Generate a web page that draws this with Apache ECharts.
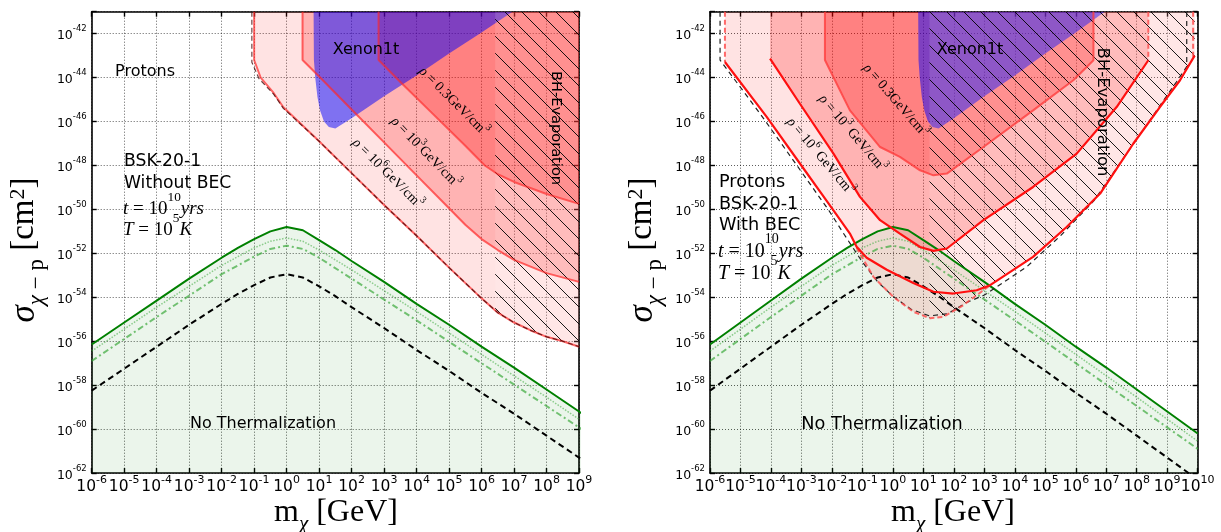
<!DOCTYPE html>
<html><head><meta charset="utf-8">
<script src="https://cdn.jsdelivr.net/npm/echarts@6/dist/echarts.min.js"></script>
<style>html,body{margin:0;padding:0;background:#fff}#c{width:1221px;height:532px}</style>
</head><body><div id="c"></div>
<script>
// All values: x = log10(m_chi / GeV), y = log10(sigma / cm^2)
const xTickExpLeft  = [-6,-5,-4,-3,-2,-1,0,1,2,3,4,5,6,7,8,9];
const xTickExpRight = [-6,-5,-4,-3,-2,-1,0,1,2,3,4,5,6,7,8,9,10];
const yTickExp = [-62,-60,-58,-56,-54,-52,-50,-48,-46,-44,-42];

// thermalization curves (shared by both panels)
const greenSolid = [[-6,-56.15],[-5,-55.15],[-4,-54.15],[-3,-53.15],[-2,-52.2],[-1.5,-51.75],[-1,-51.35],[-0.5,-51.0],[0,-50.8],[0.5,-50.95],[1,-51.4],[1.5,-51.85],[2,-52.35],[3,-53.3],[4,-54.3],[5,-55.25],[6,-56.25],[7,-57.2],[8,-58.2],[9,-59.2],[10,-60.2]];
const greenDotted = [[-6,-56.45],[-4,-54.45],[-2,-52.55],[-1,-51.75],[-0.5,-51.45],[0,-51.3],[0.5,-51.45],[1,-51.85],[2,-52.75],[4,-54.65],[6,-56.6],[8,-58.55],[10,-60.55]];
const greenDashDot = [[-6,-56.9],[-4,-54.9],[-2,-52.95],[-1,-52.15],[-0.5,-51.8],[0,-51.65],[0.5,-51.8],[1,-52.2],[2,-53.15],[4,-55.05],[6,-57.0],[8,-58.95],[10,-60.9]];
const blackDashed = [[-6,-58.25],[-5,-57.25],[-4,-56.25],[-3,-55.25],[-2,-54.3],[-1.5,-53.85],[-1,-53.45],[-0.5,-53.1],[0,-52.95],[0.5,-53.1],[1,-53.5],[1.5,-53.95],[2,-54.45],[3,-55.4],[4,-56.4],[5,-57.35],[6,-58.35],[7,-59.3],[8,-60.3],[9,-61.3],[10,-62.3]];

// Xenon1t excluded region (both panels)
const xenon = [[0.83,-41],[0.84,-43.2],[0.88,-44.0],[0.95,-44.9],[1.03,-45.5],[1.15,-46.0],[1.3,-46.25],[1.5,-46.32],[2,-45.85],[3,-44.85],[4,-43.9],[5,-42.9],[6,-41.95],[6.95,-41]];

// LEFT panel (without BEC): rho regions
const leftRho6 = [[-1.0,-41],[-1.0,-43.2],[-0.8,-44.0],[-0.4,-44.7],[-0.1,-45.35],[1,-46.9],[2,-48.35],[3,-49.8],[4,-51.2],[5,-52.65],[6,-54.05],[6.5,-54.7],[7,-55.15],[7.5,-55.5],[8,-55.8],[8.5,-56.0],[9,-56.25]];
const leftRho6Dash = [[-1.07,-41],[-1.07,-43.3],[-0.85,-44.05],[-0.4,-44.75],[-0.1,-45.4],[1,-46.9],[2,-48.35],[3,-49.8],[4,-51.2],[5,-52.65],[6,-54.05],[6.5,-54.7],[7,-55.15],[7.5,-55.5],[8,-55.8],[8.5,-56.0],[9,-56.25]];
const leftRho3 = [[0.49,-41],[0.49,-43.2],[1,-43.95],[2,-45.45],[3,-46.95],[4,-48.45],[5,-49.95],[5.5,-50.7],[6,-51.35],[6.5,-51.85],[7,-52.3],[8,-52.9],[9,-53.3]];
const leftRho03 = [[2.83,-41],[2.83,-43.2],[3.5,-44.2],[4.5,-45.65],[5.5,-47.1],[6.1,-48.0],[6.5,-48.4],[7,-48.75],[8,-49.3],[9,-49.75]];
const leftBH = [[6.42,-41],[9,-41],[9,-56.25],[8.5,-56.0],[8,-55.8],[7.5,-55.5],[7,-55.15],[6.5,-54.7],[6.42,-54.6]];

// RIGHT panel (with BEC)
const rightRho6Solid = [[-5.51,-43.29],[-4.14,-45.79],[-3.05,-47.91],[-1.95,-50.04],[-1.41,-51.1],[-1.19,-51.7],[-0.86,-52.2],[-0.2,-52.75],[0.67,-53.35],[1.33,-53.75],[1.98,-53.83],[2.75,-53.68],[3.19,-53.45],[4.6,-52.16],[5.7,-50.8],[6.8,-49.28],[7.89,-47.0],[8.76,-45.34],[9.42,-44.12],[9.9,-43.0]];
const rightRho6Bag = [[-1.19,-51.75],[-0.64,-53.07],[0.01,-53.98],[0.67,-54.66],[1.22,-54.96],[1.66,-54.89],[2.31,-54.36],[2.97,-53.68],[3.19,-53.45]];
const rightRho6Fill = [[-5.51,-41],[-5.51,-43.29],[-4.14,-45.79],[-3.05,-47.91],[-1.95,-50.04],[-1.41,-51.1],[-1.19,-51.75],[-0.64,-53.07],[0.01,-53.98],[0.67,-54.66],[1.22,-54.96],[1.66,-54.89],[2.31,-54.36],[2.97,-53.68],[3.19,-53.45],[4.6,-52.16],[5.7,-50.8],[6.8,-49.28],[7.89,-47.0],[8.76,-45.34],[9.42,-44.12],[9.9,-43.0],[9.9,-41]];
const rightBlackDash = [[-5.67,-41],[-5.67,-43.2],[-4.3,-45.75],[-3.2,-47.9],[-2.1,-50.05],[-1.5,-51.35],[-1.0,-52.4],[-0.5,-53.3],[0,-53.95],[0.6,-54.55],[1.2,-54.85],[1.8,-54.75],[2.4,-54.25],[3.0,-53.9],[4.4,-52.6],[5.5,-51.2],[6.6,-49.6],[7.7,-47.4],[8.6,-45.6],[9.3,-44.2],[9.64,-43.5],[9.64,-41]];
const rightRho3 = [[-4.03,-41],[-4.03,-43.14],[-3.05,-45.19],[-1.95,-47.46],[-1.08,-49.43],[-0.42,-50.49],[0.23,-51.1],[0.89,-51.71],[1.33,-51.89],[1.77,-51.78],[2.97,-50.49],[4.6,-48.98],[6.03,-47.46],[7.34,-45.34],[8.38,-43.21],[8.38,-41]];
const rightRho03 = [[-2.23,-41],[-2.23,-43.2],[-1.41,-45.49],[-0.42,-47.16],[0.23,-47.61],[0.89,-48.22],[1.33,-48.45],[1.77,-48.37],[2.97,-47.16],[4.6,-45.49],[5.92,-44.12],[6.58,-43.21],[6.58,-41]];
const rightBH = [[1.2,-41],[9.9,-41],[9.9,-43.0],[9.42,-44.12],[8.76,-45.34],[7.89,-47.0],[6.8,-49.28],[5.7,-50.8],[4.6,-52.16],[3.19,-53.45],[2.97,-53.68],[2.31,-54.36],[1.66,-54.89],[1.22,-54.96],[1.2,-54.96]];
const rightVertDashRed = [[[-5.51,-41],[-5.51,-43.29]],[[8.38,-41],[8.38,-43.21]],[[9.85,-41],[9.85,-43.05]]];

// ---------- build ----------
const hc = document.createElement('canvas'); hc.width = 17; hc.height = 17;
const hx = hc.getContext('2d'); hx.strokeStyle = '#000'; hx.lineWidth = 0.9;
hx.beginPath(); hx.moveTo(-1,-1); hx.lineTo(18,18); hx.moveTo(-1,16); hx.lineTo(1,18); hx.moveTo(16,-1); hx.lineTo(18,1); hx.stroke();
const hatchFill = {image: hc, repeat: 'repeat'};

function polySeries(points, fill, gi, z) {
  return {type:'custom', coordinateSystem:'cartesian2d', xAxisIndex:gi, yAxisIndex:gi, silent:true, z, clip:true, data:[0],
    renderItem:(p, api) => ({type:'polygon', shape:{points: points.map(q => api.coord(q))}, style:{fill}})};
}
function lineSeries(data, color, width, type, gi, z) {
  return {type:'line', xAxisIndex:gi, yAxisIndex:gi, data, symbol:'none', silent:true, z, clip:true,
    lineStyle:{color, width, type, cap:'butt'}};
}
const tickRich = {
  b:{fontFamily:'DejaVu Sans', fontSize:15.5, lineHeight:20, verticalAlign:'bottom', color:'#000'},
  s:{fontFamily:'DejaVu Sans', fontSize:11, lineHeight:11, verticalAlign:'top', color:'#000'}
};
const yRich = {
  b:{fontFamily:'DejaVu Sans', fontSize:12.5, lineHeight:18, verticalAlign:'bottom', color:'#000'},
  s:{fontFamily:'DejaVu Sans', fontSize:8.5, lineHeight:8.5, verticalAlign:'top', color:'#000'}
};
const frame = {show:true, onZero:false, lineStyle:{color:'#000', width:1.6}};
const tick = {show:true, inside:true, length:5, lineStyle:{color:'#000', width:1.4}};
const grid = {show:true, lineStyle:{color:'#000', width:0.8, type:[1,2], opacity:0.8}};
// bottom axis: labels split in two overlapping axes (even / odd exponents) so that
// touching labels are not dropped by the overlap check
function xAx(gi, max, ticks, parity, main) {
  return {type:'value', gridIndex:gi, position:'bottom', offset:0, min:-6, max, interval:1,
    axisLine: main ? frame : {show:false}, axisTick: main ? tick : {show:false},
    axisLabel:{show:true, margin:2, showMinLabel:true, showMaxLabel:true, hideOverlap:false,
      formatter:v => (ticks.includes(v) && Math.abs(v % 2) === parity) ? '{b|10}{s|' + v + '}' : '', rich:tickRich},
    splitLine: main ? grid : {show:false}};
}
function xTop(gi, max) {
  return {type:'value', gridIndex:gi, position:'top', min:-6, max, interval:1, axisLine:frame, axisTick:tick, axisLabel:{show:false}, splitLine:{show:false}};
}
function yAx(gi) {
  return {type:'value', gridIndex:gi, position:'left', min:-62, max:-41, interval:2, axisLine:frame, axisTick:tick,
    axisLabel:{show:true, margin:5, showMinLabel:true, hideOverlap:false,
      formatter:v => yTickExp.includes(v) ? '{b|10}{s|' + v + '}' : '', rich:yRich},
    splitLine:grid};
}
function yRight(gi) {
  return {type:'value', gridIndex:gi, position:'right', min:-62, max:-41, interval:2, axisLine:frame, axisTick:tick, axisLabel:{show:false}, splitLine:{show:false}};
}

const series = [];
for (let gi = 0; gi < 2; gi++) {
  series.push({type:'line', xAxisIndex:gi, yAxisIndex:gi, data:greenSolid, symbol:'none', silent:true, z:1, lineStyle:{opacity:0},
    areaStyle:{origin:'start', color:'rgba(0,128,0,0.11)'}});
}
// left fills
series.push(polySeries(leftRho6.concat([[9,-41]]), 'rgba(255,0,0,0.11)', 0, 2));
series.push(polySeries(leftRho3.concat([[9,-41]]), 'rgba(255,0,0,0.21)', 0, 2));
series.push(polySeries(leftRho03.concat([[9,-41]]), 'rgba(255,0,0,0.28)', 0, 2));
series.push(polySeries(xenon, 'rgba(0,0,255,0.5)', 0, 3));
series.push(polySeries(leftBH, 'rgba(255,255,255,0.12)', 0, 4));
series.push(polySeries(leftBH, hatchFill, 0, 4));
// right fills
series.push(polySeries(rightRho6Fill, 'rgba(255,0,0,0.11)', 1, 2));
series.push(polySeries(rightRho3, 'rgba(255,0,0,0.21)', 1, 2));
series.push(polySeries(rightRho03, 'rgba(255,0,0,0.28)', 1, 2));
series.push(polySeries(xenon, 'rgba(0,0,255,0.5)', 1, 3));
series.push(polySeries(rightBH, 'rgba(255,255,255,0.12)', 1, 4));
series.push(polySeries(rightBH, hatchFill, 1, 4));
// green / black curves
for (let gi = 0; gi < 2; gi++) {
  series.push(lineSeries(greenDotted, 'rgba(60,170,60,0.55)', 1.5, [1.5,1.5], gi, 6));
  series.push(lineSeries(greenDashDot, 'rgba(60,170,60,0.7)', 2, [6,3,2,3], gi, 6));
  series.push(lineSeries(blackDashed, '#000', 2, [6,4], gi, 7));
  series.push(lineSeries(greenSolid, '#008000', 2, 'solid', gi, 7));
}
// left boundaries
series.push(lineSeries(leftRho6, 'rgba(255,40,40,0.7)', 2, 'solid', 0, 8));
series.push(lineSeries(leftRho6Dash, 'rgba(60,0,0,0.75)', 1.2, [5,3], 0, 8));
series.push(lineSeries(leftRho3, 'rgba(255,40,40,0.7)', 2, 'solid', 0, 8));
series.push(lineSeries(leftRho03, 'rgba(255,40,40,0.65)', 2, 'solid', 0, 8));
// right boundaries
series.push(lineSeries(rightBlackDash, '#222', 1.2, [5,4], 1, 8));
series.push(lineSeries(rightRho6Bag, 'rgba(255,80,80,0.85)', 2, [5,3], 1, 8));
rightVertDashRed.forEach(d => series.push(lineSeries(d, 'rgba(255,80,80,0.85)', 2, [5,3], 1, 8)));
series.push(lineSeries(rightRho6Solid, '#ff1010', 2.2, 'solid', 1, 9));
series.push(lineSeries(rightRho3.slice(1, -1), '#ff1010', 2.2, 'solid', 1, 9));
series.push(lineSeries(rightRho03, 'rgba(255,60,60,0.8)', 2, 'solid', 1, 9));

// ---------- texts ----------
const sans = 'DejaVu Sans', serif = 'Liberation Serif';
function txt(x, y, text, size, opts) {
  opts = opts || {};
  return {type:'text', x, y, rotation:opts.rot || 0, z:100, silent:true,
    style:{text, fontFamily:opts.family || sans, fontSize:size, fontStyle:opts.italic ? 'italic' : 'normal', fill:'#000',
      align:opts.align || 'center', textAlign:opts.align || 'center', verticalAlign:'middle', textVerticalAlign:'middle', rich:opts.rich}};
}
function mathRich(size, lh) {
  return {
    i:{fontFamily:serif, fontStyle:'italic', fontSize:size, lineHeight:size*lh, verticalAlign:'bottom'},
    r:{fontFamily:serif, fontSize:size, lineHeight:size*lh, verticalAlign:'bottom'},
    s:{fontFamily:serif, fontSize:size*0.7, lineHeight:size*0.7, verticalAlign:'top'}
  };
}
const graphics = [
  // left panel
  txt(145, 72, 'Protons', 16),
  txt(366, 50, 'Xenon1t', 16),
  txt(124, 162, 'BSK-20-1', 17.2, {align:'left'}),
  txt(124, 184, 'Without BEC', 17.2, {align:'left'}),
  txt(123, 205, '{i|t}{r| = 10}{s|10}{i|yrs}', 19, {align:'left', rich:mathRich(19, 1.45)}),
  txt(123, 226, '{i|T}{r| = 10}{s|5}{i|K}', 19, {align:'left', rich:mathRich(19, 1.45)}),
  txt(556, 128, 'BH-Evaporation', 14.6, {rot:-Math.PI/2}),
  txt(263, 424, 'No Thermalization', 16),
  txt(455, 100, '{i|ρ}{r| = 0.3GeV/cm}{s|3}', 14, {rot:-Math.PI/4, rich:mathRich(14, 1.3)}),
  txt(427, 151, '{i|ρ}{r| = 10}{s|3}{r|GeV/cm}{s|3}', 14, {rot:-0.80, rich:mathRich(14, 1.3)}),
  txt(389, 172, '{i|ρ}{r| = 10}{s|6}{r|GeV/cm}{s|3}', 14, {rot:-Math.PI/4, rich:mathRich(14, 1.3)}),
  // right panel
  txt(970, 50, 'Xenon1t', 16),
  txt(1102, 112, 'BH-Evaporation', 16.5, {rot:-Math.PI/2}),
  txt(719, 182, 'Protons', 17.7, {align:'left'}),
  txt(719, 204, 'BSK-20-1', 17.7, {align:'left'}),
  txt(719, 225, 'With BEC', 17.7, {align:'left'}),
  txt(718, 247, '{i|t}{r| = 10}{s|10}{i|yrs}', 20, {align:'left', rich:mathRich(20, 1.45)}),
  txt(718, 269, '{i|T}{r| = 10}{s|5}{i|K}', 20, {align:'left', rich:mathRich(20, 1.45)}),
  txt(882, 424, 'No Thermalization', 17.7),
  txt(897, 99, '{i|ρ}{r| = 0.3GeV/cm}{s|3}', 14, {rot:-0.86, rich:mathRich(14, 1.3)}),
  txt(854, 132, '{i|ρ}{r| = 10}{s|3}{r| GeV/cm}{s|3}', 14, {rot:-0.87, rich:mathRich(14, 1.3)}),
  txt(822, 155, '{i|ρ}{r| = 10}{s|6}{r| GeV/cm}{s|3}', 14, {rot:-0.87, rich:mathRich(14, 1.3)})
];
// axis titles
const xTitleRich = {
  r:{fontFamily:serif, fontSize:32, lineHeight:38, verticalAlign:'top'},
  u:{fontFamily:serif, fontStyle:'italic', fontSize:21, lineHeight:21, verticalAlign:'bottom'}
};
const yTitleRich = {
  g:{fontFamily:serif, fontStyle:'italic', fontSize:35, lineHeight:41, verticalAlign:'top'},
  u:{fontFamily:serif, fontStyle:'italic', fontSize:23, lineHeight:23, verticalAlign:'bottom'},
  v:{fontFamily:serif, fontSize:23, lineHeight:23, verticalAlign:'bottom'},
  r:{fontFamily:serif, fontSize:33, lineHeight:41, verticalAlign:'top'},
  s:{fontFamily:serif, fontSize:22, lineHeight:22, verticalAlign:'top'}
};
[[336, 516], [953, 516]].forEach(p => graphics.push(txt(p[0], p[1], '{r|m}{u|χ}{r| [GeV]}', 32, {rich:xTitleRich})));
[[28, 250], [646, 250]].forEach(p => graphics.push(txt(p[0], p[1], '{g|σ}{u|χ}{v| − p}{r| [cm}{s|2}{r|]}', 33, {rot:Math.PI/2, rich:yTitleRich})));

const chart = echarts.init(document.getElementById('c'));
chart.setOption({
  animation:false,
  backgroundColor:'#fff',
  grid:[{left:91.7, top:11.7, width:487.3, height:461.3}, {left:710, top:11.7, width:487.7, height:461.3}],
  xAxis:[xAx(0, 9, xTickExpLeft, 0, true), xAx(1, 10, xTickExpRight, 0, true), xTop(0, 9), xTop(1, 10),
         xAx(0, 9, xTickExpLeft, 1, false), xAx(1, 10, xTickExpRight, 1, false)],
  yAxis:[yAx(0), yAx(1), yRight(0), yRight(1)],
  series,
  graphic:graphics
});
</script></body></html>
